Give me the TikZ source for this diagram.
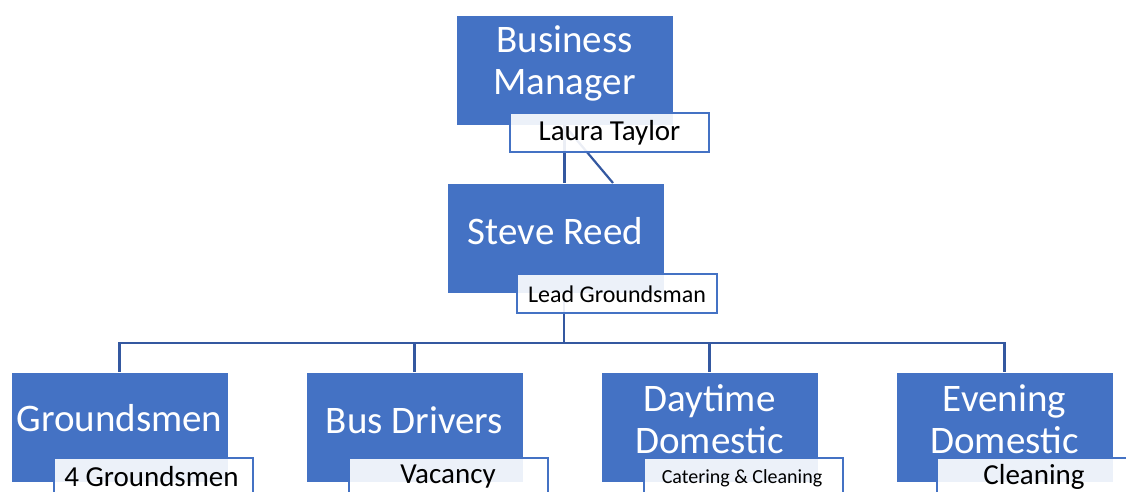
\documentclass[tikz,border=0pt]{standalone}
\usepackage{fontspec}
\setmainfont{Carlito}
\definecolor{boxblue}{HTML}{4472C4}
\definecolor{linkblue}{RGB}{52,88,160}
\tikzset{
  unitbox/.style={rectangle, fill=boxblue, draw=white, line width=0.8pt, inner sep=0pt, minimum width=217pt, minimum height=110pt},
  tagbox/.style={rectangle, fill=white, fill opacity=0.9, draw=boxblue, line width=2pt, inner sep=0pt, minimum width=199pt, minimum height=39pt},
  bigtext/.style={text=white, font=\fontsize{39}{42}\selectfont, align=center, inner sep=0pt},
  tagtext/.style={text=black, inner sep=0pt},
  link/.style={draw=linkblue, line width=2.2pt, line join=miter}
}
\begin{document}
\begin{tikzpicture}[x=1pt,y=-1pt]
\useasboundingbox (0,0) rectangle (1126,492);
\clip (0,0) rectangle (1126,492);
% boxes
\node[unitbox] (bm) at (564.5,70) {};
\node[unitbox] (sr) at (555.5,238) {};
\node[unitbox] (g) at (119.5,427.5) {};
\node[unitbox] (b) at (414.5,427.5) {};
\node[unitbox] (d) at (709.5,427.5) {};
\node[unitbox] (e) at (1004.5,427.5) {};
% connectors
\coordinate (srtop) at (613,183);
\coordinate (srout) at (564,293);
\coordinate (bus) at (564,343);
\draw[link] (bm.south) -- (bm.south |- sr.north);
\draw[link] (bm.south) -- (srtop);
\draw[link] (srout) -- (bus);
\draw[link] (g.north) -- (g.north |- bus) -- (e.north |- bus) -- (e.north);
\draw[link] (b.north) -- (b.north |- bus);
\draw[link] (d.north) -- (d.north |- bus);
% tags
\node[tagbox] (lt) at (609.5,132.5) {};
\node[tagbox, minimum width=200pt] (lg) at (617,293.5) {};
\node[tagbox] (gt) at (153.5,477.5) {};
\node[tagbox] (bt) at (448.5,477.5) {};
\node[tagbox] (dt) at (743,477.5) {};
\node[tagbox] (et) at (1036,477.5) {};
% texts
\node[bigtext] (bmt) at (564.5,63) {Business\\Manager};
\node[bigtext] (srt) at (555.5,231) {Steve Reed};
\node[bigtext] (gtx) at (119.5,418) {Groundsmen};
\node[bigtext] (btx) at (414.5,420) {Bus Drivers};
\node[bigtext] (dtx) at (709.5,419.5) {Daytime\\Domestic};
\node[bigtext] (etx) at (1004.5,419.5) {Evening\\Domestic};
\node[tagtext, font=\fontsize{29}{32}\selectfont] (ltt) at (609.5,133) {Laura Taylor};
\node[tagtext, font=\fontsize{24}{27}\selectfont] (lgt) at (617,294) {Lead Groundsman};
\node[tagtext, font=\fontsize{29}{32}\selectfont] (gtt) at (151.5,477) {4 Groundsmen};
\node[tagtext, font=\fontsize{29}{32}\selectfont] (btt) at (448,477) {Vacancy};
\node[tagtext, font=\fontsize{20}{23}\selectfont] (dtt) at (742,478) {Catering \& Cleaning};
\node[tagtext, font=\fontsize{29}{32}\selectfont] (ett) at (1034,477) {Cleaning};
\end{tikzpicture}
\end{document}
